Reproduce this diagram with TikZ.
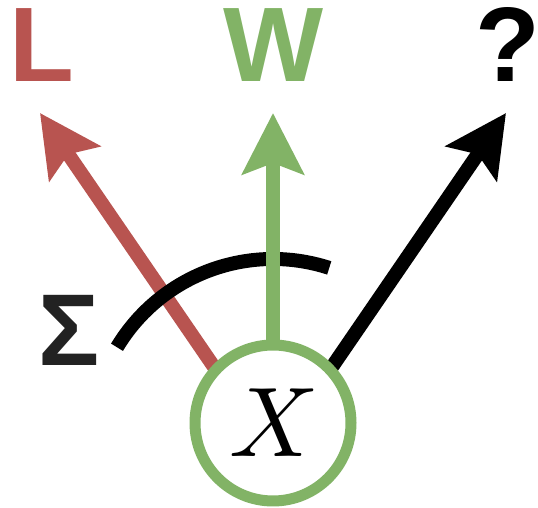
\documentclass[tikz,border=0pt]{standalone}
\usepackage{unicode-math}
\newfontfamily\headfont{Liberation Sans}
\usetikzlibrary{arrows.meta,positioning,calc,backgrounds}
\definecolor{LossRed}{HTML}{B85450}
\definecolor{WinGreen}{HTML}{82B366}
\definecolor{SigmaGray}{HTML}{222222}
\tikzset{
  outcome/.style={font=\headfont\bfseries\fontsize{106}{106}\selectfont, inner sep=0pt, anchor=base},
  statenode/.style={circle, draw=WinGreen, line width=11pt, fill=white, minimum size=156pt, inner sep=0pt, outer sep=0pt, font=\fontsize{99}{99}\selectfont},
  movearrow/.style={line width=14pt, -{Stealth[length=61pt,width=61pt,inset=11pt]}},
  lossmove/.style={movearrow, draw=LossRed},
  winmove/.style={movearrow, draw=WinGreen},
  openmove/.style={movearrow, draw=black},
  sumarc/.style={line width=14pt, draw=black}
}

\begin{document}
\begin{tikzpicture}[x=1pt,y=1pt]
  \useasboundingbox (0,0) rectangle (538,508);
  \node[statenode] (X) at (273,85) {$X$};
  \node[outcome, text=LossRed] (L) at (42,426) {L};
  \node[outcome, text=WinGreen] (W) at (274,426) {W};
  \node[outcome] (Q) at (508,426) {?};
  \node[font=\headfont\bfseries\fontsize{102}{102}\selectfont, text=SigmaGray, anchor=base, inner sep=0pt] (S) at (69,142) {Σ};
  \coordinate (Ltip) at (40,395);
  \coordinate (Wtip) at (273,395);
  \coordinate (Qtip) at (506,395);
  \coordinate (pivot) at ($(X.center)+(0,-18)$);
  \begin{scope}[on background layer]
    \draw[lossmove] (X.137) -- (Ltip);
    \draw[sumarc] ([shift={(149:182)}]pivot) arc[start angle=149, end angle=72, radius=182];
    \draw[winmove] (X.north) -- (Wtip);
    \draw[openmove] (X.43) -- (Qtip);
  \end{scope}
\end{tikzpicture}
\end{document}
